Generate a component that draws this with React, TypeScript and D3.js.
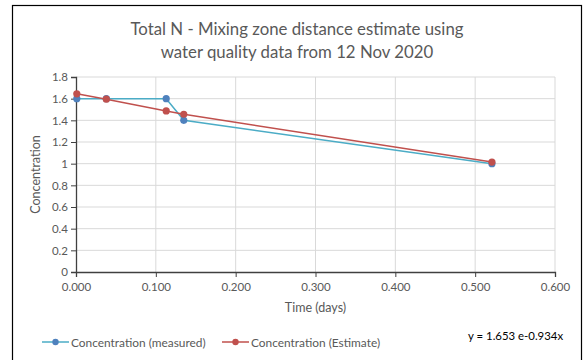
import React, { useEffect, useRef } from 'react';
import * as d3 from 'd3';

// time (days) of each sample
const timeDays = [0.001, 0.038, 0.113, 0.135, 0.521];
const measured = [1.6, 1.6, 1.6, 1.4, 1.0];
const estimate = [1.645, 1.595, 1.487, 1.456, 1.015];

const xTicks = [0, 0.1, 0.2, 0.3, 0.4, 0.5, 0.6];
const yTicks = [0, 0.2, 0.4, 0.6, 0.8, 1, 1.2, 1.4, 1.6, 1.8];

const titleLines = ['Total N - Mixing zone distance estimate using', 'water quality data from 12 Nov 2020'];
const seriesNames = ['Concentration (measured)', 'Concentration (Estimate)'];
const equation = 'y = 1.653 e-0.934x';

const FONT = 'Lato, "Open Sans", sans-serif';

const App: React.FC = () => {
  const svgRef = useRef<SVGSVGElement>(null);

  useEffect(() => {
    if (!svgRef.current) return;
    const svg = d3.select(svgRef.current);
    svg.selectAll('*').remove();

    const x = d3.scaleLinear().domain([0, 0.6]).range([76, 555]);
    const y = d3.scaleLinear().domain([0, 1.8]).range([272, 77]);

    // outer frame
    svg.append('rect')
      .attr('x', 12.5).attr('y', 5.5).attr('width', 569).attr('height', 370)
      .attr('fill', '#fff').attr('stroke', '#000').attr('stroke-width', 1.2);

    // title
    svg.append('g').selectAll('text')
      .data(titleLines)
      .enter()
      .append('text')
      .attr('x', 297)
      .attr('y', (d, i) => 35 + i * 23)
      .attr('text-anchor', 'middle')
      .attr('font-family', FONT)
      .attr('font-size', '16.8px')
      .attr('fill', '#595959')
      .text(d => d);

    // gridlines
    svg.append('g').selectAll('line')
      .data(yTicks.slice(1))
      .enter()
      .append('line')
      .attr('x1', x(0)).attr('x2', x(0.6))
      .attr('y1', d => y(d)).attr('y2', d => y(d))
      .attr('stroke', '#d9d9d9').attr('stroke-width', 1);
    svg.append('g').selectAll('line')
      .data(xTicks.slice(1))
      .enter()
      .append('line')
      .attr('x1', d => x(d)).attr('x2', d => x(d))
      .attr('y1', y(0)).attr('y2', y(1.8))
      .attr('stroke', '#d9d9d9').attr('stroke-width', 1);

    // axes
    const yAxis = svg.append('g')
      .attr('transform', `translate(${x(0)},0)`)
      .call(d3.axisLeft(y).tickValues(yTicks).tickSize(5).tickFormat(d => String(d)));
    const xAxis = svg.append('g')
      .attr('transform', `translate(0,${y(0)})`)
      .call(d3.axisBottom(x).tickValues(xTicks).tickSize(5).tickFormat(d3.format('.3f')));
    [yAxis, xAxis].forEach(a => {
      a.select('.domain').attr('stroke', '#404040').attr('stroke-width', 1.3);
      a.selectAll('.tick line').attr('stroke', '#404040');
      a.selectAll('.tick text')
        .attr('fill', '#595959').attr('font-family', FONT).attr('font-size', '11.5px');
    });
    yAxis.selectAll('.tick text').attr('x', -8);
    xAxis.selectAll('.tick text').attr('y', 11);

    // axis titles
    svg.append('text')
      .attr('transform', `translate(40,${(y(0) + y(1.8)) / 2}) rotate(-90)`)
      .attr('text-anchor', 'middle')
      .attr('font-family', FONT).attr('font-size', '12.5px').attr('fill', '#595959')
      .text('Concentration');
    svg.append('text')
      .attr('x', (x(0) + x(0.6)) / 2).attr('y', 312)
      .attr('text-anchor', 'middle')
      .attr('font-family', FONT).attr('font-size', '12.5px').attr('fill', '#595959')
      .text('Time (days)');

    // series
    const series = [
      { values: measured, line: '#4bacc6', marker: '#4f81bd' },
      { values: estimate, line: '#c0504d', marker: '#c0504d' },
    ];
    const line = d3.line<number>()
      .x((d, i) => x(timeDays[i]))
      .y(d => y(d));

    series.forEach(s => {
      svg.append('path')
        .datum(s.values)
        .attr('fill', 'none')
        .attr('stroke', s.line)
        .attr('stroke-width', 1.5)
        .attr('d', line);
      svg.append('g').selectAll('circle')
        .data(s.values)
        .enter()
        .append('circle')
        .attr('cx', (d, i) => x(timeDays[i]))
        .attr('cy', d => y(d))
        .attr('r', 3.6)
        .attr('fill', s.marker);
    });

    // legend
    const legendX = [42, 222];
    series.forEach((s, i) => {
      const lg = svg.append('g').attr('transform', `translate(${legendX[i]},342)`);
      lg.append('line').attr('x1', 0).attr('x2', 27).attr('y1', 0).attr('y2', 0)
        .attr('stroke', s.line).attr('stroke-width', 1.5);
      lg.append('circle').attr('cx', 13.5).attr('cy', 0).attr('r', 3.2).attr('fill', s.marker);
      lg.append('text')
        .attr('x', 29).attr('y', 4.5)
        .attr('font-family', FONT).attr('font-size', '11.9px').attr('fill', '#595959')
        .text(seriesNames[i]);
    });

    // equation
    svg.append('text')
      .attr('x', 468).attr('y', 340)
      .attr('font-family', FONT).attr('font-size', '11.4px').attr('fill', '#000')
      .text(equation);
  }, []);

  return <svg ref={svgRef} width={587} height={360} style={{ display: 'block', position: 'absolute', left: 0, top: 0 }} />;
};

export default App;
